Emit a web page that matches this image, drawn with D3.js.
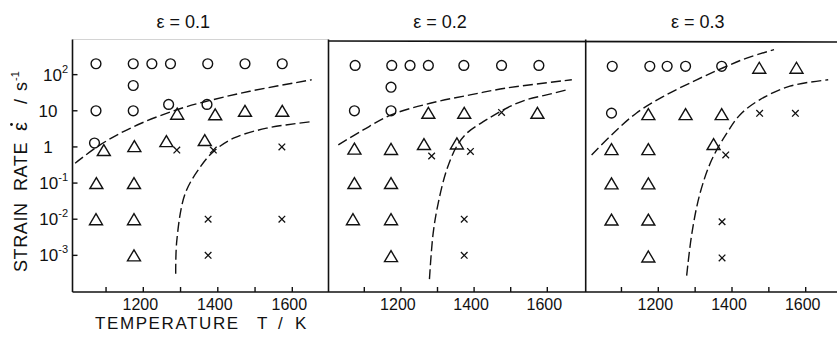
<!DOCTYPE html>
<html><head><meta charset="utf-8">
<script src="https://cdn.jsdelivr.net/npm/d3@7/dist/d3.min.js"></script>
<style>
html,body{margin:0;padding:0;background:#fff;}
svg{display:block;}
text{font-family:"Liberation Sans",Arial,sans-serif;fill:#111;}
</style></head>
<body>
<script>
// ---------- data ----------
const strains = ["0.1", "0.2", "0.3"];
const tempTicks = [1100, 1200, 1300, 1400, 1500, 1600];
const tempLabels = [1200, 1400, 1600];
const rateTicks = [100, 10, 1, 0.1, 0.01, 0.001];
const rateLabelBase = ["10", "10", "1", "10", "10", "10"];
const rateLabelExp = ["2", "", "", "-1", "-2", "-3"];

// panel ε = 0.1  ([T (K), strain rate (1/s)])
const p1Circles = [[1073,200],[1173,200],[1223,200],[1273,200],[1373,200],[1473,200],[1573,200],[1173,50],[1073,10],[1173,10],[1268,15],[1371,15],[1069,1.28]];
const p1Triangles = [[1291,8.3],[1393,8],[1473,10],[1573,10],[1094,0.82],[1176,1.05],[1262,1.45],[1365,1.55],[1074,0.1],[1175,0.1],[1073,0.01],[1175,0.01],[1175,0.001]];
const p1Crosses = [[1290,0.82],[1388,0.82],[1572,1],[1374,0.01],[1572,0.01],[1374,0.001]];
const p1Upper = [[1017,0.355],[1084,1.14],[1173,3.6],[1290,10.7],[1388,20.4],[1486,34.7],[1652,72]];
const p1Lower = [[1287,0.00031],[1290,0.0026],[1312,0.05],[1352,0.27],[1388,0.74],[1442,1.74],[1531,3.3],[1652,5.0]];

// panel ε = 0.2
const p2Circles = [[1075,180],[1175,180],[1225,180],[1275,180],[1372,180],[1475,180],[1577,180],[1173,45],[1073,10],[1173,10]];
const p2Triangles = [[1275,8.8],[1373,8.8],[1573,8.8],[1073,0.9],[1173,0.88],[1263,1.2],[1353,1.25],[1073,0.1],[1173,0.1],[1069,0.01],[1173,0.01],[1173,0.00095]];
const p2Crosses = [[1475,9],[1284,0.56],[1390,0.75],[1373,0.01],[1373,0.001]];
const p2Upper = [[1029,1.14],[1097,2.95],[1175,7.8],[1280,16.2],[1389,27.5],[1489,42.7],[1667,72]];
const p2Lower = [[1278,0.00022],[1288,0.004],[1302,0.028],[1325,0.23],[1352,1.02],[1380,2.4],[1425,5.0],[1457,7.8],[1498,13.2],[1544,20.4],[1598,27.5],[1653,38]];

// panel ε = 0.3
const p3Circles = [[1075,170],[1177,170],[1224,170],[1274,170],[1372,170],[1073,8.6]];
const p3Triangles = [[1474,155],[1575,155],[1173,8.1],[1274,8.1],[1372,8.1],[1073,0.87],[1173,0.87],[1350,1.2],[1073,0.098],[1173,0.098],[1073,0.0098],[1173,0.0098],[1173,0.00093]];
const p3Crosses = [[1475,8.5],[1572,8.5],[1383,0.6],[1373,0.0085],[1373,0.00085]];
const p3Upper = [[1019,0.6],[1078,2.4],[1141,8.7],[1214,25],[1304,72],[1376,155],[1440,288],[1514,490]];
const p3Lower = [[1277,0.000275],[1291,0.004],[1313,0.051],[1345,0.44],[1386,2.4],[1422,7.8],[1476,20.4],[1557,48],[1661,72]];

const panelData = [
  {circles:p1Circles, triangles:p1Triangles, crosses:p1Crosses, curves:[p1Upper,p1Lower]},
  {circles:p2Circles, triangles:p2Triangles, crosses:p2Crosses, curves:[p2Upper,p2Lower]},
  {circles:p3Circles, triangles:p3Triangles, crosses:p3Crosses, curves:[p3Upper,p3Lower]}
];

// ---------- layout ----------
const W = 837, H = 338;
const axisTop = 41, axisBottom = 292;
const panelX1000 = [68.8, 327.7, 584.6];   // pixel of T = 1000 K
const panelPxPerK = [0.3725, 0.366, 0.3685];
const panelLeft = [72.5, 328.5, 585.7];
const rightEdge = 837;

const svg = d3.select("body").append("svg").attr("width", W).attr("height", H);

const y = d3.scaleLog().domain([1e-4, 1e3]).range([291.5, 38.5]);

const ink = "#111";

// frame lines
svg.append("line").attr("x1", panelLeft[0]).attr("x2", rightEdge).attr("y1", axisBottom).attr("y2", axisBottom)
  .attr("stroke", ink).attr("stroke-width", 1.6);
svg.append("line").attr("x1", panelLeft[0]).attr("x2", panelLeft[1]).attr("y1", axisTop - 1.5).attr("y2", axisTop - 1.5)
  .attr("stroke", "#d4d4d4").attr("stroke-width", 1);
svg.append("line").attr("x1", panelLeft[1]).attr("x2", rightEdge).attr("y1", axisTop).attr("y2", axisTop + 1)
  .attr("stroke", ink).attr("stroke-width", 1.6);
panelLeft.forEach(px => {
  svg.append("line").attr("x1", px).attr("x2", px).attr("y1", axisTop - 1.5).attr("y2", axisBottom)
    .attr("stroke", ink).attr("stroke-width", 1.6);
});

// y ticks and labels (first panel)
rateTicks.forEach((v, i) => {
  const yy = y(v);
  svg.append("line").attr("x1", panelLeft[0]).attr("x2", panelLeft[0] + 5).attr("y1", yy).attr("y2", yy)
    .attr("stroke", ink).attr("stroke-width", 1.4);
  const t = svg.append("text").attr("y", yy + 6).attr("font-size", 17);
  if (rateLabelExp[i]) {
    t.attr("x", 68).attr("text-anchor", "end").text(rateLabelBase[i]);
    t.append("tspan").attr("dy", -8).attr("font-size", 11).text(rateLabelExp[i]);
  } else {
    t.attr("x", 48).attr("text-anchor", "middle").text(rateLabelBase[i]);
  }
});

// y axis title (rotated)
const yt = svg.append("g").attr("transform", "translate(27,272) rotate(-90)");
const ytText = yt.append("text").attr("font-size", 18);
ytText.append("tspan").attr("x", 0).attr("letter-spacing", 0.6).text("STRAIN");
ytText.append("tspan").attr("x", 81).attr("letter-spacing", 0.6).text("RATE");
ytText.append("tspan").attr("x", 141).attr("font-size", 20).text("ε");
ytText.append("tspan").attr("x", 168).text("/");
ytText.append("tspan").attr("x", 181).text("s");
ytText.append("tspan").attr("x", 191).attr("dy", -8).attr("font-size", 11).text("-1");
yt.append("circle").attr("cx", 147.5).attr("cy", -15.5).attr("r", 1.4).attr("fill", ink);

// x axis title
const xt = svg.append("text").attr("y", 329).attr("font-size", 17);
xt.append("tspan").attr("x", 95).attr("letter-spacing", 1.6).text("TEMPERATURE");
xt.append("tspan").attr("x", 257).text("T");
xt.append("tspan").attr("x", 278).text("/");
xt.append("tspan").attr("x", 295).text("K");

const dashLine = d3.line().curve(d3.curveCatmullRom.alpha(0.5));

panelData.forEach((pd, pi) => {
  const x = d3.scaleLinear().domain([1000, 1700])
    .range([panelX1000[pi], panelX1000[pi] + 700 * panelPxPerK[pi]]);
  const g = svg.append("g");

  // title
  g.append("text").attr("x", x(1307)).attr("y", 28).attr("text-anchor", "middle")
    .attr("font-size", 18).text("ε = " + strains[pi]);

  // x ticks
  tempTicks.forEach(t => {
    g.append("line").attr("x1", x(t)).attr("x2", x(t)).attr("y1", axisBottom).attr("y2", axisBottom - 5)
      .attr("stroke", ink).attr("stroke-width", 1.4);
  });
  tempLabels.forEach(t => {
    g.append("text").attr("x", x(t) - 3).attr("y", 309.5).attr("text-anchor", "middle")
      .attr("font-size", 16).text(t);
  });

  // dashed boundary curves
  pd.curves.forEach(c => {
    g.append("path").attr("d", dashLine(c.map(d => [x(d[0]), y(d[1])])))
      .attr("fill", "none").attr("stroke", ink).attr("stroke-width", 1.4)
      .attr("stroke-dasharray", "10,4");
  });

  // circles
  g.selectAll("circle.c").data(pd.circles).join("circle")
    .attr("cx", d => x(d[0])).attr("cy", d => y(d[1])).attr("r", 4.9)
    .attr("fill", "none").attr("stroke", ink).attr("stroke-width", 1.4);

  // triangles (bbox centred on point)
  const tw = 13, th = 11;
  g.selectAll("path.t").data(pd.triangles).join("path")
    .attr("d", d => {
      const cx = x(d[0]), cy = y(d[1]);
      return `M${cx},${cy - th / 2}L${cx + tw / 2},${cy + th / 2}L${cx - tw / 2},${cy + th / 2}Z`;
    })
    .attr("fill", "none").attr("stroke", ink).attr("stroke-width", 1.4).attr("stroke-linejoin", "miter");

  // crosses
  const cs = 3.3;
  g.selectAll("path.x").data(pd.crosses).join("path")
    .attr("d", d => {
      const cx = x(d[0]), cy = y(d[1]);
      return `M${cx - cs},${cy - cs}L${cx + cs},${cy + cs}M${cx - cs},${cy + cs}L${cx + cs},${cy - cs}`;
    })
    .attr("fill", "none").attr("stroke", ink).attr("stroke-width", 1.3);
});
</script>
</body></html>
